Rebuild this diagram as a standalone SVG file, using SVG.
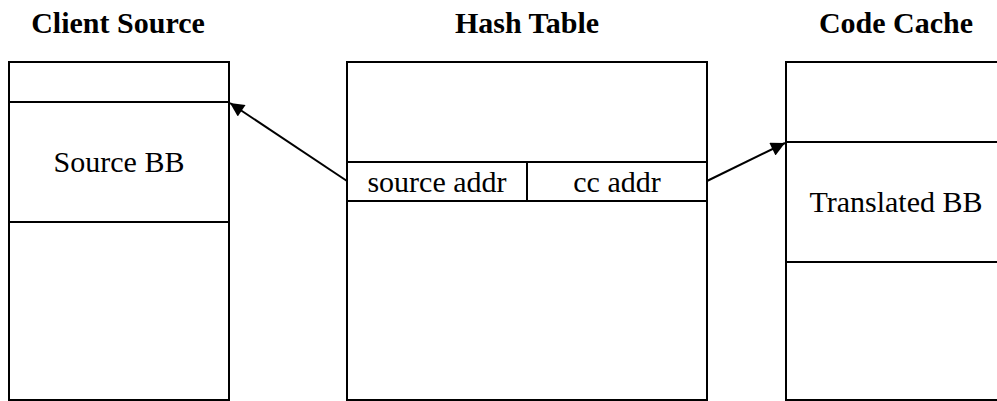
<svg xmlns="http://www.w3.org/2000/svg" width="997" height="401" viewBox="0 0 997 401">
  <style>
    .box { fill: #fff; stroke: #000; stroke-width: 2; }
    .div { stroke: #000; stroke-width: 2; }
    .title { font-family: "Liberation Serif", serif; font-weight: bold; font-size: 30px; text-anchor: middle; fill: #000; }
    .lbl { font-family: "Liberation Serif", serif; font-size: 30px; text-anchor: middle; fill: #000; }
    .conn { stroke: #000; stroke-width: 2; fill: none; marker-end: url(#arrow); }
  </style>
  <defs>
    <marker id="arrow" viewBox="0 0 10 10" refX="10" refY="5" markerWidth="9" markerHeight="7" markerUnits="strokeWidth" orient="auto">
      <path d="M0,0 L10,5 L0,10 Z" fill="#000"/>
    </marker>
  </defs>

  <!-- client source memory column -->
  <g id="client-source">
    <text class="title" x="118" y="33">Client Source</text>
    <rect class="box" x="9" y="62" width="220" height="338"/>
    <line class="div" x1="9" y1="102" x2="229" y2="102"/>
    <line class="div" x1="9" y1="222" x2="229" y2="222"/>
    <text class="lbl" x="119" y="172">Source BB</text>
  </g>

  <!-- hash table with one entry row -->
  <g id="hash-table">
    <text class="title" x="527" y="33">Hash Table</text>
    <rect class="box" x="347" y="62" width="360" height="338"/>
    <line class="div" x1="347" y1="162" x2="707" y2="162"/>
    <line class="div" x1="347" y1="201" x2="707" y2="201"/>
    <line class="div" x1="527" y1="162" x2="527" y2="201"/>
    <text class="lbl" x="437" y="192">source addr</text>
    <text class="lbl" x="617" y="192">cc addr</text>
  </g>

  <!-- code cache memory column -->
  <g id="code-cache">
    <text class="title" x="896" y="33">Code Cache</text>
    <rect class="box" x="786" y="62" width="220" height="338"/>
    <line class="div" x1="786" y1="142" x2="1000" y2="142"/>
    <line class="div" x1="786" y1="262" x2="1000" y2="262"/>
    <text class="lbl" x="896" y="212">Translated BB</text>
  </g>

  <!-- pointers from the hash entry -->
  <g id="connectors">
    <line class="conn" x1="347" y1="181" x2="230" y2="103"/>
    <line class="conn" x1="707" y1="181" x2="785" y2="143"/>
  </g>
</svg>
